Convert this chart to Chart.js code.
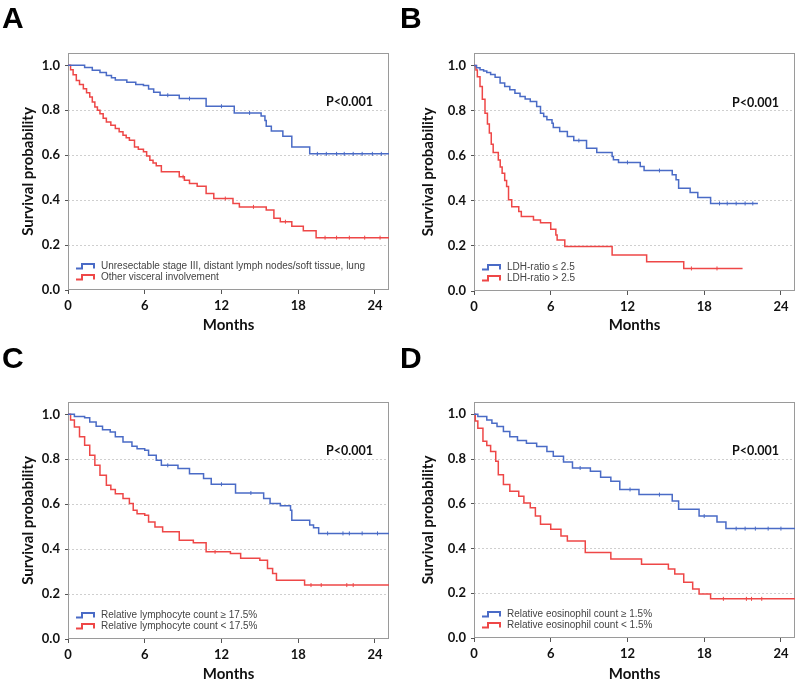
<!DOCTYPE html>
<html lang="en">
<head>
<meta charset="UTF-8">
<meta name="viewport" content="width=device-width, initial-scale=1.0">
<title>Kaplan-Meier survival by subgroup</title>
<script src="https://cdn.jsdelivr.net/npm/chart.js"></script>
<style>
    body { margin: 0; background: #fff; }
    #fig { position: relative; width: 800px; height: 682px; overflow: hidden; }
    .panel { position: absolute; width: 400px; height: 341px; }
    .letter { position: absolute; font: bold 30px "Liberation Sans", Arial, sans-serif; line-height: 1; color: #000; }
</style>
</head>
<body>
<div id="fig">
    <div class="panel" style="left:0;top:0"><canvas id="chartA" width="400" height="341"></canvas></div>
    <div class="panel" style="left:400px;top:0"><canvas id="chartB" width="400" height="341"></canvas></div>
    <div class="panel" style="left:0;top:341px"><canvas id="chartC" width="400" height="341"></canvas></div>
    <div class="panel" style="left:400px;top:341px"><canvas id="chartD" width="400" height="341"></canvas></div>
    <div class="letter" style="left:2px;top:3px">A</div>
    <div class="letter" style="left:400px;top:3px">B</div>
    <div class="letter" style="left:2px;top:343px">C</div>
    <div class="letter" style="left:400px;top:343px">D</div>
</div>

<script>
    // ---- data (months, survival probability) ----
    const monthTicks = [0, 6, 12, 18, 24];
    const probTicks = [0, 0.2, 0.4, 0.6, 0.8, 1.0];

    // A: stage / site of metastasis
    const aLabels = ['Unresectable stage III, distant lymph nodes/soft tissue, lung', 'Other visceral involvement'];
    const aBlueT = [0, 1.3, 1.9, 2.5, 3.0, 3.4, 3.7, 4.6, 5.3, 5.9, 6.3, 6.7, 7.2, 8.7, 10.8, 13.0, 15.1, 15.4, 15.5, 15.9, 16.8, 17.5, 18.9, 25.1];
    const aBlueS = [1, 0.99, 0.978, 0.968, 0.955, 0.945, 0.935, 0.925, 0.915, 0.91, 0.895, 0.88, 0.867, 0.852, 0.818, 0.788, 0.775, 0.755, 0.729, 0.708, 0.684, 0.637, 0.606, 0.606];
    const aBlueCens = [7.8, 9.5, 12.0, 14.2, 19.5, 20.2, 21.0, 21.6, 22.3, 23.0, 23.8, 24.5];
    const aRedT = [0, 0.2, 0.4, 0.65, 0.9, 1.2, 1.45, 1.7, 1.9, 2.1, 2.3, 2.5, 2.75, 3.0, 3.35, 3.7, 4.0, 4.3, 4.55, 4.8, 5.2, 5.5, 5.9, 6.15, 6.4, 6.65, 6.9, 7.3, 8.7, 9.1, 9.5, 10.1, 10.8, 11.4, 12.9, 13.4, 15.5, 16.1, 16.6, 17.5, 18.4, 19.4, 25.1];
    const aRedS = [1, 0.98, 0.958, 0.933, 0.915, 0.896, 0.878, 0.859, 0.837, 0.815, 0.8, 0.785, 0.765, 0.748, 0.733, 0.719, 0.704, 0.689, 0.678, 0.667, 0.637, 0.626, 0.615, 0.597, 0.578, 0.565, 0.553, 0.526, 0.504, 0.489, 0.474, 0.462, 0.43, 0.407, 0.385, 0.37, 0.356, 0.319, 0.304, 0.284, 0.264, 0.233, 0.233];
    const aRedCens = [9.0, 12.3, 14.5, 17.0, 20.1, 21.0, 22.0, 23.2, 24.4];

    // B: LDH ratio
    const bLabels = ['LDH-ratio \u2264 2.5', 'LDH-ratio > 2.5'];
    const bBlueT = [0, 0.2, 0.47, 0.75, 1.0, 1.3, 1.65, 2.04, 2.4, 2.8, 3.2, 3.6, 4.0, 4.4, 4.9, 5.2, 5.45, 5.7, 6.1, 6.2, 6.7, 7.3, 7.8, 8.8, 9.6, 10.8, 10.9, 11.3, 13.0, 13.3, 15.5, 15.8, 16.0, 16.9, 17.5, 18.5, 22.2];
    const bBlueS = [1, 0.99, 0.981, 0.975, 0.969, 0.96, 0.948, 0.922, 0.907, 0.892, 0.877, 0.862, 0.851, 0.84, 0.818, 0.788, 0.773, 0.759, 0.744, 0.725, 0.707, 0.685, 0.667, 0.633, 0.614, 0.596, 0.582, 0.57, 0.552, 0.534, 0.515, 0.493, 0.456, 0.437, 0.415, 0.388, 0.388];
    const bBlueCens = [8.2, 12.0, 14.5, 19.2, 19.8, 20.5, 21.2, 21.8];
    const bRedT = [0, 0.15, 0.26, 0.47, 0.65, 0.86, 1.05, 1.2, 1.35, 1.5, 1.9, 2.05, 2.2, 2.4, 2.55, 2.7, 2.95, 3.5, 3.7, 4.65, 5.2, 6.0, 6.4, 6.5, 7.1, 10.8, 13.5, 16.4, 21.0];
    const bRedS = [1, 0.98, 0.95, 0.907, 0.85, 0.788, 0.74, 0.7, 0.65, 0.614, 0.581, 0.55, 0.522, 0.49, 0.463, 0.404, 0.374, 0.352, 0.33, 0.315, 0.303, 0.274, 0.248, 0.226, 0.197, 0.16, 0.13, 0.1, 0.1];
    const bRedCens = [17.0, 19.0];

    // C: relative lymphocyte count
    const cLabels = ['Relative lymphocyte count \u2265 17.5%', 'Relative lymphocyte count < 17.5%'];
    const cBlueT = [0, 0.5, 1.3, 1.7, 2.2, 2.7, 3.3, 3.7, 4.3, 5.0, 5.4, 6.0, 6.3, 6.9, 7.3, 8.6, 9.5, 10.6, 11.2, 13.1, 15.3, 15.8, 16.6, 17.4, 17.5, 18.9, 19.2, 19.6, 25.1];
    const cBlueS = [1, 0.99, 0.985, 0.966, 0.947, 0.932, 0.921, 0.9, 0.877, 0.858, 0.847, 0.84, 0.818, 0.796, 0.773, 0.759, 0.736, 0.714, 0.689, 0.65, 0.625, 0.603, 0.593, 0.573, 0.529, 0.507, 0.495, 0.47, 0.47];
    const cBlueCens = [7.8, 12.0, 14.3, 20.3, 21.5, 22.0, 23.0, 24.2];
    const cRedT = [0, 0.2, 0.5, 0.9, 1.3, 1.7, 2.1, 2.5, 3.0, 3.35, 3.7, 4.3, 4.8, 5.1, 5.4, 6.0, 6.3, 6.8, 7.4, 8.7, 9.8, 10.8, 12.7, 13.5, 15.0, 15.6, 16.0, 16.3, 18.5, 25.1];
    const cRedS = [1, 0.975, 0.944, 0.9, 0.862, 0.818, 0.773, 0.729, 0.684, 0.665, 0.647, 0.625, 0.603, 0.573, 0.558, 0.551, 0.521, 0.499, 0.477, 0.44, 0.429, 0.388, 0.381, 0.359, 0.351, 0.314, 0.292, 0.262, 0.24, 0.24];
    const cRedCens = [11.5, 19.0, 19.8, 21.8, 22.3];

    // D: relative eosinophil count
    const dLabels = ['Relative eosinophil count \u2265 1.5%', 'Relative eosinophil count < 1.5%'];
    const dBlueT = [0, 0.3, 1.0, 1.4, 1.8, 2.3, 2.8, 3.4, 4.1, 4.9, 5.7, 6.2, 7.0, 7.7, 9.1, 9.9, 10.7, 11.4, 12.9, 15.5, 16.0, 17.6, 19.0, 19.7, 25.1];
    const dBlueS = [1, 0.99, 0.975, 0.96, 0.945, 0.923, 0.9, 0.883, 0.871, 0.856, 0.834, 0.812, 0.787, 0.76, 0.745, 0.719, 0.701, 0.664, 0.641, 0.612, 0.575, 0.545, 0.519, 0.489, 0.489];
    const dBlueCens = [8.3, 12.2, 14.5, 18.0, 20.5, 21.2, 22.0, 23.0, 24.0];
    const dRedT = [0, 0.1, 0.3, 0.7, 1.0, 1.3, 1.7, 1.9, 2.3, 2.8, 3.5, 3.9, 4.4, 4.8, 5.2, 6.0, 6.8, 7.3, 8.7, 10.7, 13.1, 15.2, 15.7, 16.4, 17.1, 17.6, 18.5, 25.1];
    const dRedS = [1, 0.97, 0.938, 0.879, 0.86, 0.834, 0.79, 0.73, 0.686, 0.656, 0.634, 0.604, 0.582, 0.545, 0.508, 0.486, 0.456, 0.434, 0.382, 0.353, 0.33, 0.308, 0.286, 0.249, 0.219, 0.197, 0.175, 0.175];
    const dRedCens = [19.5, 21.3, 21.7, 22.5];

    const pText = 'P<0.001';

    // ---- styling ----
    const BLUE = '#4a6bc6';
    const RED = '#ee4747';
    const TICK_FONT = { family: 'Lato, "Open Sans", sans-serif', size: 13, weight: 'bold' };
    const TITLE_FONT = { family: 'Lato, "Open Sans", sans-serif', size: 15, weight: 'bold', lineHeight: 1 };

    function toPoints(t, s) {
        return t.map((x, i) => ({ x: x, y: s[i] }));
    }

    // censor marks sit on the curve: look up the step value at that time
    function censorPoints(cens, t, s) {
        return cens.map(x => {
            let y = s[0];
            for (let i = 0; i < t.length; i++) { if (t[i] <= x) y = s[i]; }
            return { x: x, y: y };
        });
    }

    const kmDecor = {
        id: 'kmDecor',
        beforeDatasetsDraw(chart) {
            const { ctx, chartArea: a } = chart;
            ctx.save();
            ctx.strokeStyle = '#9a9a9a';
            ctx.lineWidth = 1;
            ctx.strokeRect(a.left + 0.5, a.top + 0.5, a.width - 1, a.height - 1);
            ctx.restore();
        },
        afterDatasetsDraw(chart, args, opts) {
            const { ctx, chartArea: a } = chart;
            ctx.save();
            // p value
            ctx.font = 'bold 12.5px Lato, "Open Sans", sans-serif';
            ctx.fillStyle = '#111';
            ctx.textAlign = 'right';
            ctx.textBaseline = 'middle';
            ctx.fillText(opts.p, a.right - 16, chart.scales.y.getPixelForValue(0.8) - 8);
            // legend with step symbols
            const rows = [a.bottom - 24, a.bottom - 13];
            chart.data.datasets.slice(0, 2).forEach((ds, i) => {
                const y = rows[i];
                const x0 = a.left + 8;
                ctx.strokeStyle = ds.borderColor;
                ctx.lineWidth = 2;
                ctx.beginPath();
                ctx.moveTo(x0, y + 2.5);
                ctx.lineTo(x0 + 6, y + 2.5);
                ctx.lineTo(x0 + 6, y - 2);
                ctx.lineTo(x0 + 18, y - 2);
                ctx.lineTo(x0 + 18, y + 2.5);
                ctx.stroke();
                ctx.font = '10px "Liberation Sans", Arial, sans-serif';
                ctx.fillStyle = '#444';
                ctx.textAlign = 'left';
                ctx.fillText(ds.label, a.left + 33, y);
            });
            ctx.restore();
        }
    };

    function buildChart(id, geo, labels, blueT, blueS, blueCens, redT, redS, redCens) {
        const ctx = document.getElementById(id).getContext('2d');
        new Chart(ctx, {
            type: 'line',
            data: {
                datasets: [
                    { label: labels[0], data: toPoints(blueT, blueS), borderColor: BLUE, borderWidth: 1.5, stepped: true, pointRadius: 0, fill: false },
                    { label: labels[1], data: toPoints(redT, redS), borderColor: RED, borderWidth: 1.5, stepped: true, pointRadius: 0, fill: false },
                    { type: 'scatter', data: censorPoints(blueCens, blueT, blueS), borderColor: BLUE, pointStyle: 'line', rotation: 90, pointRadius: 2, borderWidth: 1 },
                    { type: 'scatter', data: censorPoints(redCens, redT, redS), borderColor: RED, pointStyle: 'line', rotation: 90, pointRadius: 2, borderWidth: 1 }
                ]
            },
            options: {
                responsive: false,
                animation: false,
                layout: { padding: { top: geo.top, right: 400 - geo.right, left: 0, bottom: 0 } },
                scales: {
                    x: {
                        type: 'linear', min: 0, max: 25.1,
                        afterFit: s => { s.height = 341 - geo.bottom; },
                        afterBuildTicks: s => { s.ticks = monthTicks.map(v => ({ value: v })); },
                        ticks: { font: TICK_FONT, color: '#111', padding: 4, maxRotation: 0 },
                        grid: { drawOnChartArea: false, drawTicks: true, tickLength: 4, tickColor: '#555', tickWidth: 1 },
                        border: { display: false },
                        title: { display: true, text: 'Months', font: TITLE_FONT, color: '#111', padding: { top: 0, bottom: 341 - geo.titleY - 7.5 } }
                    },
                    y: {
                        min: 0, max: 1.055,
                        afterFit: s => { s.width = geo.left; },
                        afterBuildTicks: s => { s.ticks = probTicks.map(v => ({ value: v })); },
                        ticks: { font: TICK_FONT, color: '#111', padding: 5, callback: v => v.toFixed(1) },
                        grid: {
                            color: c => (c.tick && c.tick.value > 0.01 && c.tick.value < 0.99) ? '#cfcfcf' : 'rgba(0,0,0,0)',
                            lineWidth: 1, tickLength: 3, tickColor: '#555', tickWidth: 1
                        },
                        border: { display: false, dash: [2, 2] },
                        title: { display: true, text: 'Survival probability', font: TITLE_FONT, color: '#111', padding: { top: 20.5, bottom: 0 } }
                    }
                },
                plugins: {
                    legend: { display: false },
                    tooltip: { enabled: false },
                    kmDecor: { p: pText }
                }
            },
            plugins: [kmDecor]
        });
    }

    buildChart('chartA', { left: 68, top: 53, right: 389, bottom: 290, titleY: 325 }, aLabels, aBlueT, aBlueS, aBlueCens, aRedT, aRedS, aRedCens);
    buildChart('chartB', { left: 74, top: 53, right: 396, bottom: 291, titleY: 325 }, bLabels, bBlueT, bBlueS, bBlueCens, bRedT, bRedS, bRedCens);
    buildChart('chartC', { left: 68, top: 61, right: 389, bottom: 298, titleY: 333.5 }, cLabels, cBlueT, cBlueS, cBlueCens, cRedT, cRedS, cRedCens);
    buildChart('chartD', { left: 74, top: 61, right: 396, bottom: 297, titleY: 333.5 }, dLabels, dBlueT, dBlueS, dBlueCens, dRedT, dRedS, dRedCens);
</script>
</body>
</html>
